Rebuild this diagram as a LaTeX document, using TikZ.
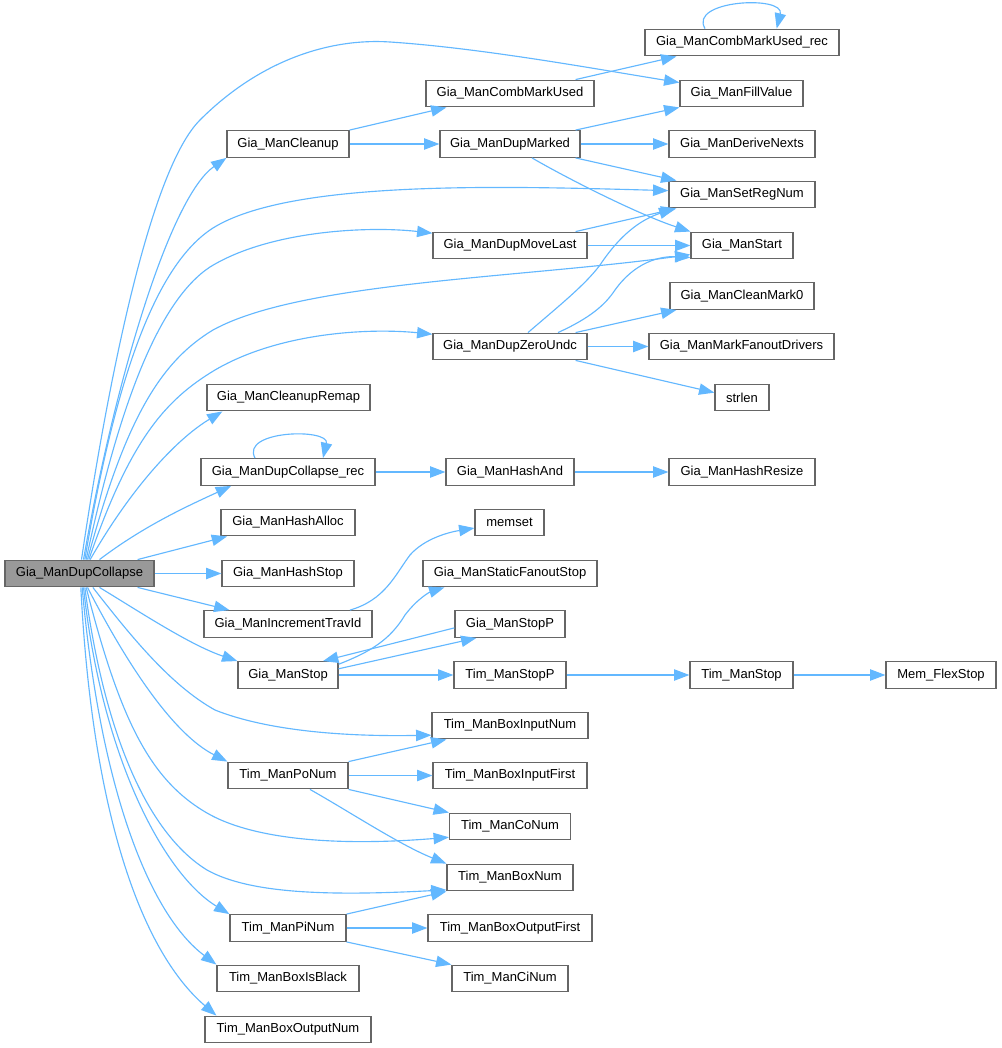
\documentclass[tikz,border=0pt]{standalone}
\usepackage{fontspec}
\setmainfont{Liberation Sans}
\usetikzlibrary{arrows.meta}
\definecolor{edgeblue}{HTML}{63B8FF}
\definecolor{nodeborder}{HTML}{666666}
\definecolor{rootfill}{HTML}{999999}
\begin{document}
\begin{tikzpicture}[x=0.75pt,y=-0.75pt,
  fnbox/.style={draw=nodeborder, line width=0.9pt, fill=white, minimum height=20pt, inner sep=0pt, font=\fontsize{9.75}{11}\selectfont, text=black},
  bw/.style={minimum width=#1*0.75pt},
  call/.style={draw=edgeblue, line width=0.85pt, -{Triangle[length=11.5pt,width=8.5pt]}}
]
\useasboundingbox (0,0) rectangle (1001,1048);
\fill[white] (0,0) rectangle (1001,1048);

% column 1
\node[fnbox,bw=149,fill=rootfill] (dc) at (79.5,573.5) {Gia\_ManDupCollapse};
% column 2
\node[fnbox,bw=122] (cleanup) at (288,144) {Gia\_ManCleanup};
\node[fnbox,bw=163] (cleanupremap) at (288.5,397.5) {Gia\_ManCleanupRemap};
\node[fnbox,bw=174] (duprec) at (288,472) {Gia\_ManDupCollapse\_rec};
\node[fnbox,bw=134] (hashalloc) at (288,522.5) {Gia\_ManHashAlloc};
\node[fnbox,bw=132] (hashstop) at (288,573.5) {Gia\_ManHashStop};
\node[fnbox,bw=168] (incr) at (288,624) {Gia\_ManIncrementTravId};
\node[fnbox,bw=100] (stop) at (288,675) {Gia\_ManStop};
\node[fnbox,bw=120] (ponum) at (288,775.5) {Tim\_ManPoNum};
\node[fnbox,bw=116] (pinum) at (288,928) {Tim\_ManPiNum};
\node[fnbox,bw=142] (isblack) at (288,978.5) {Tim\_ManBoxIsBlack};
\node[fnbox,bw=166] (boxoutnum) at (288,1029.5) {Tim\_ManBoxOutputNum};
% column 3
\node[fnbox,bw=168] (combused) at (510,93.5) {Gia\_ManCombMarkUsed};
\node[fnbox,bw=140] (dupmarked) at (510,144) {Gia\_ManDupMarked};
\node[fnbox,bw=154] (movelast) at (510,245.5) {Gia\_ManDupMoveLast};
\node[fnbox,bw=154] (zeroundc) at (510,346.5) {Gia\_ManDupZeroUndc};
\node[fnbox,bw=128] (hashand) at (510,472) {Gia\_ManHashAnd};
\node[fnbox,bw=69] (memset) at (509.5,522.5) {memset};
\node[fnbox,bw=174] (staticfo) at (510,573.5) {Gia\_ManStaticFanoutStop};
\node[fnbox,bw=110] (stopp) at (510,624) {Gia\_ManStopP};
\node[fnbox,bw=112] (timstopp) at (510,675) {Tim\_ManStopP};
\node[fnbox,bw=156] (boxinnum) at (510,725.5) {Tim\_ManBoxInputNum};
\node[fnbox,bw=154] (boxinfirst) at (510,775.5) {Tim\_ManBoxInputFirst};
\node[fnbox,bw=121] (conum) at (510,826.5) {Tim\_ManCoNum};
\node[fnbox,bw=126] (boxnum) at (510,877.5) {Tim\_ManBoxNum};
\node[fnbox,bw=164] (boxoutfirst) at (510,928) {Tim\_ManBoxOutputFirst};
\node[fnbox,bw=116] (cinum) at (510,978.5) {Tim\_ManCiNum};
% column 4
\node[fnbox,bw=194] (combrec) at (742,42.5) {Gia\_ManCombMarkUsed\_rec};
\node[fnbox,bw=123] (fillvalue) at (741.5,93.5) {Gia\_ManFillValue};
\node[fnbox,bw=146] (derivenexts) at (742,144) {Gia\_ManDeriveNexts};
\node[fnbox,bw=146] (setregnum) at (742,194.5) {Gia\_ManSetRegNum};
\node[fnbox,bw=102] (start) at (742,245.5) {Gia\_ManStart};
\node[fnbox,bw=144] (cleanmark0) at (742,296) {Gia\_ManCleanMark0};
\node[fnbox,bw=185] (markfo) at (741.5,346.5) {Gia\_ManMarkFanoutDrivers};
\node[fnbox,bw=54] (strlen) at (742,397.5) {strlen};
\node[fnbox,bw=146] (hashresize) at (742,472) {Gia\_ManHashResize};
\node[fnbox,bw=103] (timstop) at (741.5,675) {Tim\_ManStop};
% column 5
\node[fnbox,bw=110] (memflex) at (941,675) {Mem\_FlexStop};

% edges from Gia_ManDupCollapse (upwards)
\draw[call] ([xshift=1.5pt]dc.north) .. controls (108,380) and (150,170) .. (200,120) .. controls (260,60) and (330,38) .. (390,42) .. controls (480,48) and (590,68) .. (fillvalue.170);
\draw[call] ([xshift=3pt]dc.north) .. controls (115,380) and (170,197) .. (cleanup.south west);
\draw[call] ([xshift=4pt]dc.north) .. controls (115,380) and (155,265) .. (213,228) .. controls (290,180) and (500,186) .. (setregnum.177);
\draw[call] ([xshift=5pt]dc.north) .. controls (120,400) and (160,300) .. (210,267) .. controls (270,230) and (370,226) .. (movelast.171);
\draw[call] ([xshift=6pt]dc.north) .. controls (125,420) and (160,362) .. (213,330) .. controls (300,282) and (520,278) .. (start.190);
\draw[call] ([xshift=7pt]dc.north) .. controls (130,440) and (165,400) .. (215,370) .. controls (280,332) and (370,328) .. (zeroundc.171);
\draw[call] ([xshift=8pt]dc.north) .. controls (130,490) and (175,440) .. ([xshift=12pt]cleanupremap.south west);
\draw[call] ([xshift=15pt]dc.north) .. controls (145,525) and (190,505) .. ([xshift=23pt]duprec.south west);
\draw[call] ([xshift=-12.75pt]dc.north east) -- ([xshift=5pt]hashalloc.south west);
\draw[call] (dc.east) -- (hashstop.west);
% edges from Gia_ManDupCollapse (downwards)
\draw[call] ([xshift=-12.75pt]dc.south east) -- ([xshift=19.5pt]incr.north west);
\draw[call] ([xshift=15pt]dc.south) .. controls (140,612) and (190,645) .. (stop.north west);
\draw[call] ([xshift=10pt]dc.south) .. controls (130,635) and (170,685) .. (215,710) .. controls (260,728) and (330,737) .. (boxinnum.187);
\draw[call] ([xshift=6pt]dc.south) .. controls (130,670) and (175,735) .. (ponum.north west);
\draw[call] ([xshift=5pt]dc.south) .. controls (120,720) and (150,780) .. (207,813) .. controls (250,838) and (330,847) .. (conum.190);
\draw[call] ([xshift=4pt]dc.south) .. controls (105,740) and (150,835) .. (207,870) .. controls (250,894) and (330,896) .. (boxnum.191);
\draw[call] ([xshift=3pt]dc.south) .. controls (102,760) and (165,875) .. (pinum.north west);
\draw[call] ([xshift=2pt]dc.south) .. controls (100,790) and (150,915) .. (isblack.north west);
\draw[call] ([xshift=1pt]dc.south) .. controls (92,810) and (140,950) .. ([xshift=9pt]boxoutnum.north west);

% Gia_ManCleanup
\draw[call] (cleanup.north east) -- ([xshift=15.75pt]combused.south west);
\draw[call] (cleanup.east) -- (dupmarked.west);
% Gia_ManCombMarkUsed
\draw[call] ([xshift=-14.25pt]combused.north east) -- ([xshift=24pt]combrec.south west);
\draw[call] ([xshift=-27.75pt]combrec.north) .. controls (688,0) and (785,-5) .. ([xshift=26pt]combrec.north);
% Gia_ManDupMarked
\draw[call] ([xshift=-3.75pt]dupmarked.north east) -- (fillvalue.south west);
\draw[call] (dupmarked.east) -- (derivenexts.west);
\draw[call] ([xshift=-3.75pt]dupmarked.south east) -- ([xshift=6pt]setregnum.north west);
\draw[call] ([xshift=16.5pt]dupmarked.south) .. controls (570,180) and (640,215) .. (start.north west);
% Gia_ManDupMoveLast
\draw[call] ([xshift=-9pt]movelast.north east) -- ([xshift=6pt]setregnum.south west);
\draw[call] (movelast.east) -- (start.west);
% Gia_ManDupZeroUndc
\draw[call] ([xshift=13.5pt]zeroundc.north) .. controls (560,305) and (585,285) .. (600,265) .. controls (620,235) and (640,220) .. ([xshift=4.5pt]setregnum.south west);
\draw[call] ([xshift=36pt]zeroundc.north) .. controls (590,318) and (605,305) .. (615,290) .. controls (635,262) and (660,256) .. (start.193);
\draw[call] ([xshift=-9pt]zeroundc.north east) -- ([xshift=5.25pt]cleanmark0.south west);
\draw[call] (zeroundc.east) -- (markfo.west);
\draw[call] ([xshift=-9pt]zeroundc.south east) -- (strlen.170);
% Gia_ManDupCollapse_rec
\draw[call] ([xshift=-24.75pt]duprec.north) .. controls (240,430) and (330,428) .. ([xshift=26.25pt]duprec.north);
\draw[call] (duprec.east) -- (hashand.west);
\draw[call] (hashand.east) -- (hashresize.west);
% Gia_ManIncrementTravId
\draw[call] ([xshift=46.5pt]incr.north) .. controls (385,600) and (395,575) .. (410,555) .. controls (425,538) and (450,532) .. (memset.189);
% Gia_ManStop
\draw[call] (stop.12) .. controls (370,652) and (390,640) .. (405,615) .. controls (418,598) and (430,592) .. ([xshift=16.5pt]staticfo.south west);
\draw[call] (stopp.184) -- ([xshift=26.25pt]stop.north);
\draw[call] (stop.7) -- ([xshift=16.5pt]stopp.south west);
\draw[call] (stop.east) -- (timstopp.west);
\draw[call] (timstopp.east) -- (timstop.west);
\draw[call] (timstop.east) -- (memflex.west);
% Tim_ManPoNum
\draw[call] (ponum.north east) -- ([xshift=11.25pt]boxinnum.south west);
\draw[call] (ponum.east) -- (boxinfirst.west);
\draw[call] (ponum.south east) -- (conum.north west);
\draw[call] ([xshift=16.5pt]ponum.south) .. controls (350,812) and (400,845) .. (boxnum.north west);
% Tim_ManPiNum
\draw[call] (pinum.north east) -- (boxnum.south west);
\draw[call] (pinum.east) -- (boxoutfirst.west);
\draw[call] (pinum.south east) -- (cinum.north west);
\end{tikzpicture}
\end{document}
